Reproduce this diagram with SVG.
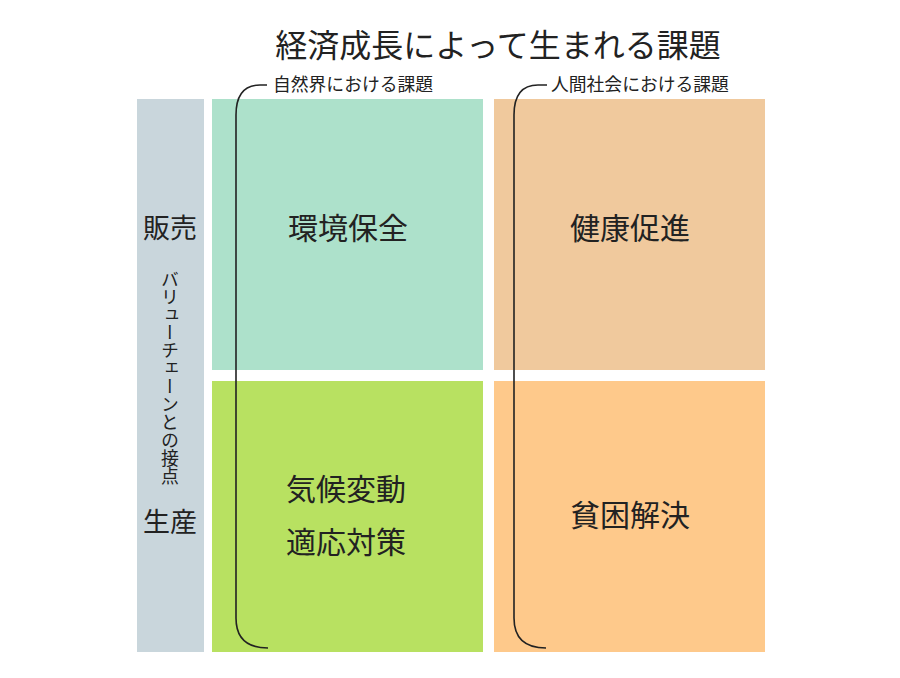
<svg xmlns="http://www.w3.org/2000/svg" width="900" height="678" viewBox="0 0 900 678">
<style>
text{font-family:"Noto Sans CJK JP","Noto Sans CJK SC",sans-serif;fill:#222}
.t{font-size:30px;text-anchor:middle}
.h{font-size:32px;text-anchor:middle}
.s{font-size:17.8px}
.b{font-size:27px;text-anchor:middle}
.br{fill:none;stroke:#222;stroke-width:1.6}
</style>
<rect width="900" height="678" fill="#fff"/>
<text x="498" y="57" class="h">経済成長によって生まれる課題</text>
<g id="side">
<rect x="137" y="99" width="67" height="553" fill="#c9d6dc"/>
<text x="170" y="238" class="b">販売</text>
<text x="170" y="532" class="b">生産</text>
<text x="170" y="270" style="font-size:17.9px;writing-mode:vertical-rl">バリューチェーンとの接点</text>
</g>
<g id="env">
<rect x="212" y="99" width="271" height="271" fill="#ade1cb"/>
<text x="348" y="239" class="t">環境保全</text>
</g>
<g id="health">
<rect x="494" y="99" width="271" height="271" fill="#f0c99d"/>
<text x="630" y="239" class="t">健康促進</text>
</g>
<g id="climate">
<rect x="212" y="381" width="271" height="271" fill="#b8e161"/>
<text x="346" y="500" class="t">気候変動</text>
<text x="346" y="553" class="t">適応対策</text>
</g>
<g id="poverty">
<rect x="494" y="381" width="271" height="271" fill="#fec98b"/>
<text x="630" y="526" class="t">貧困解決</text>
</g>
<g id="connectors">
<path class="br" d="M267,85 L260,85 Q236,85 236,115 L236,618 Q236,648 268,648"/>
<path class="br" d="M547,85 L538,85 Q514,85 514,115 L514,618 Q514,648 546,648"/>
</g>
<text x="273" y="91" class="s">自然界における課題</text>
<text x="551" y="91" class="s">人間社会における課題</text>
</svg>
